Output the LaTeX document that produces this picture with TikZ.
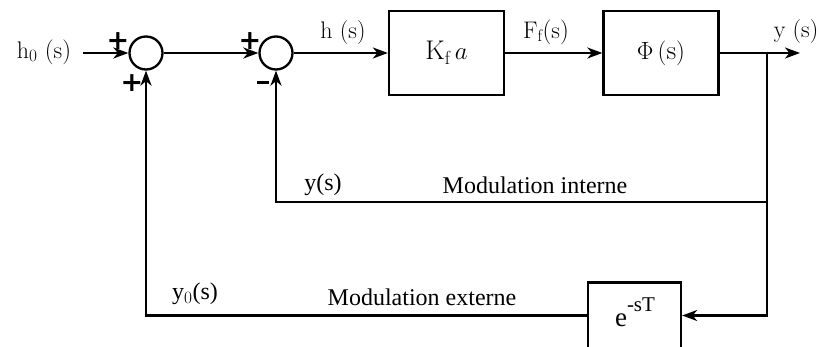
\documentclass[tikz,border=0pt]{standalone}
\usepackage{fontspec}
\newfontfamily\tms{Liberation Serif}
\newfontfamily\sgnf{DejaVu Sans}
\usetikzlibrary{arrows.meta}
\begin{document}
\begin{tikzpicture}[x=1pt,y=-1pt,
  line width=2.3pt,
  arr/.style={-{Stealth[length=15pt,width=11pt,inset=4.5pt]}},
  sumnode/.style={circle,draw,minimum size=33pt,inner sep=0pt},
  blk/.style={draw,rectangle,minimum width=115pt,minimum height=84pt,inner sep=0pt,font=\fontsize{27}{31}\selectfont},
  lbl/.style={inner sep=0pt,font=\fontsize{24}{28}\selectfont},
  tlbl/.style={inner sep=0pt,font=\tms\fontsize{24}{28}\selectfont},
  sgn/.style={inner sep=0pt,font=\sgnf\bfseries\fontsize{27}{31}\selectfont}]
\useasboundingbox (0,0) rectangle (821,347);
\clip (0,0) rectangle (821,347);
% nodes
\node[sumnode] (s1) at (146,53) {};
\node[sumnode] (s2) at (276,53) {};
\node[blk] (kf) at (446.5,53) {$\mathrm{K}_{\mathrm{f}}\,a$};
\node[blk] (phi) at (661,53) {$\Phi\,(\mathrm{s})$};
\node[draw,rectangle,minimum width=93pt,minimum height=66pt,inner sep=0pt] (dl) at (634.5,315.5) {};
\node[inner sep=0pt,font=\tms\fontsize{27}{31}\selectfont] (dltxt) at (635,312) {e\raisebox{0.55em}{\fontsize{21}{25}\selectfont -sT}};
\coordinate (br) at (767,53);
\coordinate (yo) at (800,53);
\coordinate (ib) at (767,202);
\coordinate (in0) at (83,53);
% labels
\node[lbl] (lh0) at (44,52) {$\mathrm{h}_0$\ $(\mathrm{s})$};
\node[lbl] (lh) at (343,33) {h\ (s)};
\node[lbl] (lff) at (546,32) {$\mathrm{F}_{\mathrm{f}}(\mathrm{s})$};
\node[lbl] (ly) at (796,32) {y\ (s)};
\node[tlbl] (lyi) at (323,185) {y(s)};
\node[tlbl] (lmi) at (535,185) {Modulation interne};
\node[tlbl] (ly0) at (195,294) {y$_0$(s)};
\node[tlbl] (lme) at (422,297) {Modulation externe};
\node[sgn] (p1) at (118,41) {+};
\node[sgn] (p2) at (132,83) {+};
\node[sgn] (p3) at (250,41) {+};
\node[inner sep=0pt,fill,minimum width=12pt,minimum height=3pt] (m1) at (263,83) {};
% connectors
\draw[arr] (in0) -- (s1.west);
\draw[arr] (s1.east) -- (s2.west);
\draw[arr] (s2.east) -- (kf.west);
\draw[arr] (kf.east) -- (phi.west);
\draw[arr] (phi.east) -- (yo);
\draw (br) -- (ib);
\draw[arr] (ib) -| (s2.south);
\draw[arr] (br) |- (dl.east);
\draw[arr] (dl.west) -| (s1.south);
\end{tikzpicture}
\end{document}
